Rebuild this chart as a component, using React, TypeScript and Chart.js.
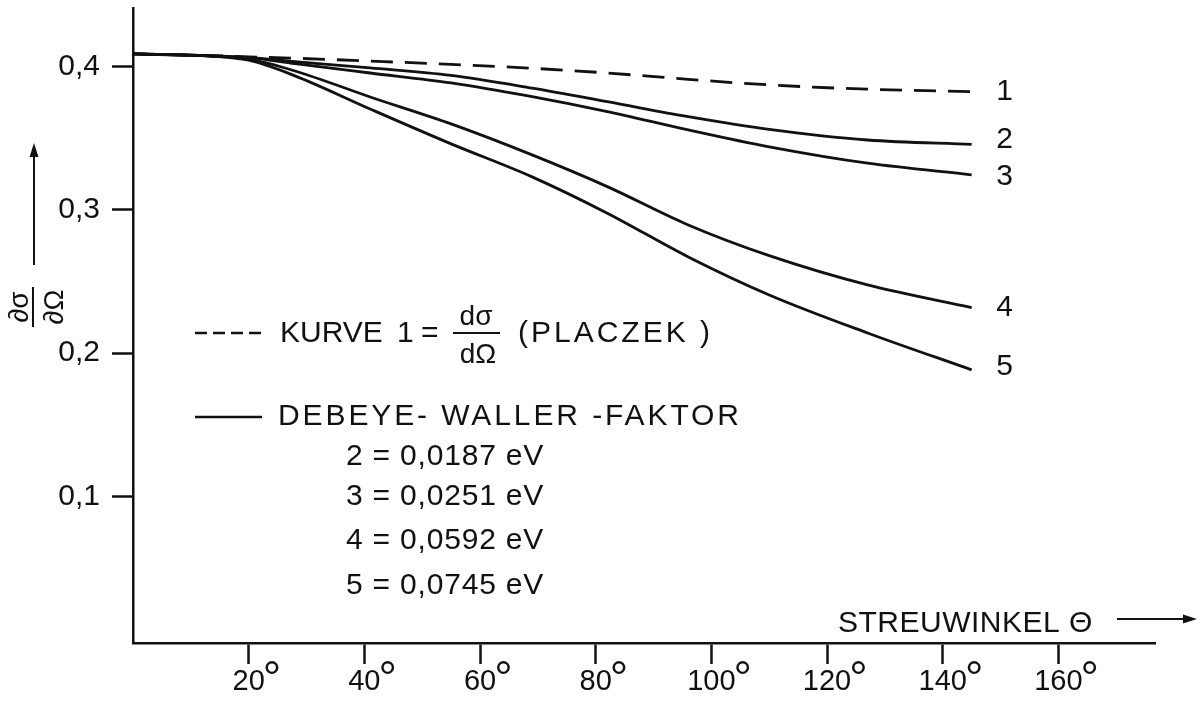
import React, { useEffect, useRef } from "react";
import { Chart, registerables } from "chart.js";

Chart.register(...registerables);

// Scattering angle θ in degrees
const ANGLES = [0, 13, 20, 28, 41, 55, 69, 82, 96, 110, 127, 145];

// dσ/dΩ values
const KURVE_1 = [0.4086, 0.4075, 0.4066, 0.4056, 0.4036, 0.4013, 0.3986, 0.3953, 0.3909, 0.387, 0.384, 0.3823];
const KURVE_2 = [0.4086, 0.4073, 0.4062, 0.4032, 0.3988, 0.3936, 0.3847, 0.3753, 0.3649, 0.356, 0.3486, 0.3456];
const KURVE_3 = [0.4086, 0.4073, 0.406, 0.4018, 0.3953, 0.3884, 0.3788, 0.3684, 0.3556, 0.3438, 0.3324, 0.3243];
const KURVE_4 = [0.4086, 0.4072, 0.4049, 0.3967, 0.3786, 0.3598, 0.3382, 0.3161, 0.2894, 0.268, 0.2476, 0.2318];
const KURVE_5 = [0.4086, 0.4072, 0.4042, 0.3933, 0.3702, 0.3459, 0.3229, 0.2976, 0.2671, 0.2406, 0.2141, 0.1884];

const SERIES = [KURVE_1, KURVE_2, KURVE_3, KURVE_4, KURVE_5];
const CURVE_LABELS = ["1", "2", "3", "4", "5"];

const X_TICKS = [20, 40, 60, 80, 100, 120, 140, 160];
const Y_TICKS = [0.1, 0.2, 0.3, 0.4];

const X_TITLE = "STREUWINKEL Θ";
const LEGEND_KURVE = ["KURVE", "1", "="];
const LEGEND_FRAC = ["dσ", "dΩ"];
const LEGEND_PLACZEK = "(PLACZEK )";
const LEGEND_DWF = "DEBEYE- WALLER -FAKTOR";
const ENERGIES = ["2 = 0,0187 eV", "3 = 0,0251 eV", "4 = 0,0592 eV", "5 = 0,0745 eV"];
const Y_FRAC = ["∂σ", "∂Ω"];

const INK = "#111111";
const FONT = '"Liberation Sans", Arial, "DejaVu Sans", sans-serif';

export default function App() {
  const ref = useRef<HTMLCanvasElement>(null);

  useEffect(() => {
    document.body.style.margin = "0";
    const canvas = ref.current;
    if (!canvas) return;

    const arrow = (ctx: CanvasRenderingContext2D, x1: number, y1: number, x2: number, y2: number) => {
      const ang = Math.atan2(y2 - y1, x2 - x1);
      const L = 14, W = 4.5;
      const bx = x2 - L * Math.cos(ang), by = y2 - L * Math.sin(ang);
      ctx.beginPath();
      ctx.moveTo(x1, y1);
      ctx.lineTo(bx, by);
      ctx.lineWidth = 2;
      ctx.stroke();
      ctx.beginPath();
      ctx.moveTo(x2, y2);
      ctx.lineTo(bx - W * Math.sin(ang), by + W * Math.cos(ang));
      ctx.lineTo(bx + W * Math.sin(ang), by - W * Math.cos(ang));
      ctx.closePath();
      ctx.fill();
    };

    const annot = {
      id: "annot",
      afterDraw(chart: any) {
        const ctx: CanvasRenderingContext2D = chart.ctx;
        const xs = chart.scales.x;
        ctx.save();
        ctx.fillStyle = INK;
        ctx.strokeStyle = INK;

        // degree signs after x tick labels
        ctx.font = `29px ${FONT}`;
        const widths = X_TICKS.map((v) => ctx.measureText(String(v)).width);
        ctx.font = `46px ${FONT}`;
        ctx.textAlign = "left";
        ctx.textBaseline = "alphabetic";
        X_TICKS.forEach((v, i) => {
          const px = xs.getPixelForValue(v);
          ctx.fillText("°", px + widths[i] / 2 - 2, 694);
        });

        // curve numbers at line ends
        ctx.font = `30px ${FONT}`;
        ctx.textAlign = "center";
        ctx.textBaseline = "middle";
        const dy = [0, -5, 2, 0, -3];
        chart.data.datasets.forEach((_: any, i: number) => {
          const meta = chart.getDatasetMeta(i);
          const p = meta.data[meta.data.length - 1];
          ctx.fillText(CURVE_LABELS[i], p.x + 33, p.y + dy[i]);
        });

        // legend row 1 (dashed)
        ctx.lineWidth = 2.5;
        ctx.setLineDash([12, 6]);
        ctx.beginPath();
        ctx.moveTo(195, 333);
        ctx.lineTo(262, 333);
        ctx.stroke();
        ctx.setLineDash([]);
        ctx.textAlign = "left";
        ctx.textBaseline = "alphabetic";
        ctx.font = `30px ${FONT}`;
        ctx.fillText(LEGEND_KURVE[0], 280, 342);
        ctx.fillText(LEGEND_KURVE[1], 397, 342);
        ctx.fillText(LEGEND_KURVE[2], 421, 342);
        ctx.font = `28px ${FONT}`;
        ctx.textAlign = "center";
        ctx.fillText(LEGEND_FRAC[0], 476, 325);
        ctx.fillText(LEGEND_FRAC[1], 478, 363);
        ctx.lineWidth = 2.2;
        ctx.beginPath();
        ctx.moveTo(453, 333);
        ctx.lineTo(500, 333);
        ctx.stroke();
        ctx.textAlign = "left";
        ctx.font = `30px ${FONT}`;
        (ctx as any).letterSpacing = "3px";
        ctx.fillText(LEGEND_PLACZEK, 518, 342);

        // legend row 2 (solid)
        ctx.lineWidth = 2.5;
        ctx.beginPath();
        ctx.moveTo(195, 417);
        ctx.lineTo(262, 417);
        ctx.stroke();
        (ctx as any).letterSpacing = "2.9px";
        ctx.fillText(LEGEND_DWF, 278, 425);
        (ctx as any).letterSpacing = "0.8px";
        const baselines = [465, 505, 549, 594];
        ENERGIES.forEach((t, i) => ctx.fillText(t, 346, baselines[i]));

        // x axis title + arrow
        (ctx as any).letterSpacing = "0.5px";
        ctx.fillText(X_TITLE, 838, 632);
        (ctx as any).letterSpacing = "0px";
        arrow(ctx, 1117, 619, 1197, 619);

        // y axis title (rotated fraction) + arrow
        ctx.save();
        ctx.translate(33, 307);
        ctx.rotate(-Math.PI / 2);
        ctx.font = `28px ${FONT}`;
        ctx.textAlign = "center";
        ctx.textBaseline = "alphabetic";
        ctx.fillText(Y_FRAC[0], 0, -5);
        ctx.fillText(Y_FRAC[1], 0, 30);
        ctx.lineWidth = 2;
        ctx.beginPath();
        ctx.moveTo(-20, 0);
        ctx.lineTo(20, 0);
        ctx.stroke();
        ctx.restore();
        arrow(ctx, 34, 265, 34, 143);

        ctx.restore();
      },
    };

    const chart = new Chart(canvas, {
      type: "line",
      data: {
        datasets: SERIES.map((vals, i) => ({
          label: "Kurve " + CURVE_LABELS[i],
          data: ANGLES.map((a, j) => ({ x: a, y: vals[j] })),
          borderColor: INK,
          borderWidth: 2.8,
          borderDash: i === 0 ? [22, 12] : [],
          pointRadius: 0,
          fill: false,
          cubicInterpolationMode: "monotone" as const,
        })),
      },
      options: {
        responsive: false,
        animation: false,
        devicePixelRatio: 1,
        layout: { padding: { left: 0, top: 8, right: 47, bottom: 0 } },
        plugins: { legend: { display: false }, tooltip: { enabled: false } },
        scales: {
          x: {
            type: "linear",
            min: 0,
            max: 176.7,
            afterBuildTicks: (axis: any) => {
              axis.ticks = X_TICKS.map((v) => ({ value: v }));
            },
            afterFit: (axis: any) => {
              axis.height = 62;
              axis.paddingLeft = 0;
              axis.paddingRight = 0;
            },
            grid: { drawOnChartArea: false, drawTicks: true, tickLength: 21, tickColor: INK, tickWidth: 2.5 },
            border: { display: true, color: INK, width: 2.5 },
            ticks: {
              color: INK,
              padding: 1,
              maxRotation: 0,
              autoSkip: false,
              font: { family: FONT, size: 29 },
              callback: (v: any) => String(v),
            },
          },
          y: {
            type: "linear",
            min: -0.002,
            max: 0.4406,
            afterBuildTicks: (axis: any) => {
              axis.ticks = Y_TICKS.map((v) => ({ value: v }));
            },
            afterFit: (axis: any) => {
              axis.width = 133;
              axis.paddingTop = 0;
              axis.paddingBottom = 0;
            },
            grid: { drawOnChartArea: false, drawTicks: true, tickLength: 21, tickColor: INK, tickWidth: 2.5 },
            border: { display: true, color: INK, width: 2.5 },
            ticks: {
              color: INK,
              padding: 12,
              autoSkip: false,
              font: { family: FONT, size: 30 },
              callback: (v: any) => Number(v).toFixed(1).replace(".", ","),
            },
          },
        },
      },
      plugins: [annot],
    });

    return () => chart.destroy();
  }, []);

  return <canvas ref={ref} width={1202} height={705} style={{ display: "block", width: 1202, height: 705 }} />;
}
